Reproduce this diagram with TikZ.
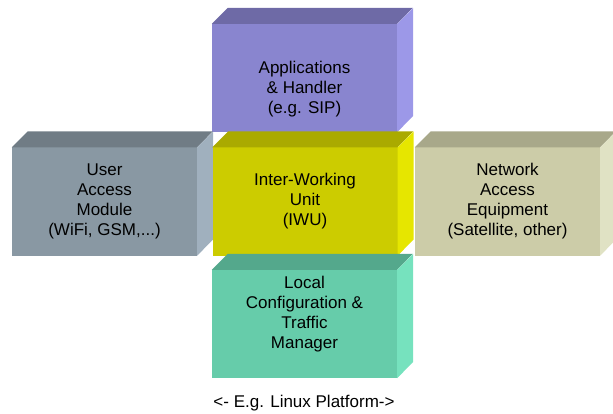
\documentclass[tikz,border=0pt]{standalone}
\usepackage{fontspec}
\setmainfont{Liberation Sans}
\definecolor{appfront}{RGB}{137,133,207}
\definecolor{apptop}{RGB}{110,106,166}
\definecolor{appside}{RGB}{156,152,232}
\definecolor{userfront}{RGB}{137,152,163}
\definecolor{usertop}{RGB}{112,124,133}
\definecolor{userside}{RGB}{160,176,190}
\definecolor{iwufront}{RGB}{204,204,0}
\definecolor{iwutop}{RGB}{170,170,0}
\definecolor{iwuside}{RGB}{230,230,0}
\definecolor{netfront}{RGB}{204,204,168}
\definecolor{nettop}{RGB}{168,168,138}
\definecolor{netside}{RGB}{224,226,196}
\definecolor{locfront}{RGB}{102,204,170}
\definecolor{loctop}{RGB}{84,168,140}
\definecolor{locside}{RGB}{118,226,190}
\tikzset{
  front/.style={rectangle, inner sep=0pt, minimum width=185pt, minimum height=108pt},
  boxtext/.style={align=center, font=\fontsize{17}{20}\selectfont},
}
\begin{document}
\begin{tikzpicture}[x=1pt,y=1pt]
	\useasboundingbox (0,0) rectangle (613,-414);

	% applications (top)
	\node[front, fill=appfront] (app) at (304.5,-78) {};
	\fill[apptop] (app.north west) -- ++(16,16) -- ++(185,0) -- (app.north east) -- cycle;
	\fill[appside] (app.north east) -- ++(16,16) -- ++(0,-108) -- (app.south east) -- cycle;
	\node[boxtext] (apptext) at ([yshift=-11pt]app.center) {Applications\\ \& Handler\\ (e.g. SIP)};

	% user access (left)
	\node[front, fill=userfront] (user) at (104.5,-201.5) {};
	\fill[usertop] (user.north west) -- ++(16,16) -- ++(185,0) -- (user.north east) -- cycle;
	\fill[userside] (user.north east) -- ++(16,16) -- ++(0,-108) -- (user.south east) -- cycle;
	\node[boxtext] (usertext) at (user.center) {User\\ Access\\ Module\\ (WiFi, GSM,...)};

	% inter-working unit (centre)
	\node[front, fill=iwufront] (iwu) at (305,-201.5) {};
	\fill[iwutop] (iwu.north west) -- ++(16,16) -- ++(185,0) -- (iwu.north east) -- cycle;
	\fill[iwuside] (iwu.north east) -- ++(16,16) -- ++(0,-108) -- (iwu.south east) -- cycle;
	\node[boxtext] (iwutext) at (iwu.center) {Inter-Working\\ Unit\\ (IWU)};

	% network access (right)
	\node[front, fill=netfront] (net) at (507.5,-201.5) {};
	\fill[nettop] (net.north west) -- ++(16,16) -- ++(185,0) -- (net.north east) -- cycle;
	\fill[netside] (net.north east) -- ++(16,16) -- ++(0,-108) -- (net.south east) -- cycle;
	\node[boxtext] (nettext) at (net.center) {Network\\ Access\\ Equipment\\ (Satellite, other)};

	% local config (bottom)
	\node[front, fill=locfront] (loc) at (304.5,-324) {};
	\fill[loctop] (loc.north west) -- ++(16,16) -- ++(185,0) -- (loc.north east) -- cycle;
	\fill[locside] (loc.north east) -- ++(16,16) -- ++(0,-108) -- (loc.south east) -- cycle;
	\node[boxtext] (loctext) at ([yshift=10pt]loc.center) {Local\\ Configuration \&\\ Traffic\\ Manager};

	\node[boxtext] (platform) at (304,-403) {<- E.g. Linux Platform->};
\end{tikzpicture}
\end{document}
